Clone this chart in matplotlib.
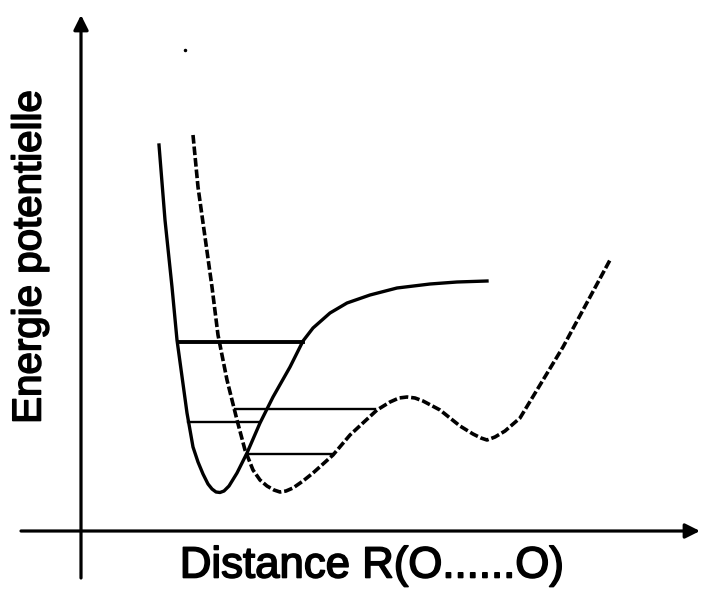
import matplotlib
matplotlib.use("Agg")
from matplotlib import pyplot as plt
from matplotlib import patheffects

plt.rcParams['font.family'] = ['Liberation Sans', 'DejaVu Sans']

# courbe en trait plein (puits simple)
r_plein = [0.78, 0.84, 0.91, 0.96, 1.06, 1.12, 1.17, 1.22, 1.27, 1.31, 1.35, 1.39,
           1.43, 1.48, 1.56, 1.66, 1.79, 1.92, 2.09, 2.22, 2.32, 2.49, 2.66, 2.89,
           3.16, 3.49, 3.76, 4.06]
e_plein = [3.86, 3.11, 2.44, 1.91, 1.18, 0.84, 0.69, 0.57, 0.47, 0.42, 0.39, 0.385,
           0.40, 0.45, 0.58, 0.78, 1.08, 1.34, 1.64, 1.90, 2.03, 2.18, 2.28, 2.36,
           2.43, 2.47, 2.49, 2.50]

# courbe en pointillés (double puits)
r_tirets = [1.12, 1.17, 1.24, 1.31, 1.37, 1.46, 1.56, 1.64, 1.72, 1.79, 1.86, 1.93,
            1.99, 2.05, 2.12, 2.22, 2.32, 2.52, 2.69, 2.83, 2.96, 3.09, 3.18, 3.26,
            3.34, 3.42, 3.59, 3.79, 3.92, 4.00, 4.06, 4.14, 4.24, 4.39, 4.59, 4.82,
            5.02, 5.29]
e_tirets = [3.96, 3.44, 2.94, 2.44, 1.96, 1.51, 1.11, 0.81, 0.61, 0.51, 0.45, 0.41,
            0.39, 0.40, 0.43, 0.50, 0.58, 0.76, 0.96, 1.09, 1.21, 1.29, 1.33, 1.34,
            1.33, 1.30, 1.21, 1.05, 0.97, 0.93, 0.91, 0.94, 1.00, 1.13, 1.46, 1.84,
            2.21, 2.71]

# niveaux d'énergie
niveaux_e = [1.89, 1.22, 1.09, 0.77]
niveaux_debut = [0.97, 1.54, 1.07, 1.66]
niveaux_fin = [2.22, 2.94, 1.79, 2.52]
niveaux_lw = [2.8, 1.7, 1.7, 1.7]

fig = plt.figure(figsize=(7.03, 5.89), dpi=100)
ax = fig.add_axes([0, 0, 1, 1])
ax.set_xlim(-0.81, 6.22)
ax.set_ylim(-0.58, 5.31)
ax.axis('off')

ax.plot(r_plein, e_plein, color='black', lw=2.4, solid_joinstyle='round')
ax.plot(r_tirets, e_tirets, color='black', lw=2.6, linestyle=(0, (2.4, 0.8)))

for e, a, b, w in zip(niveaux_e, niveaux_debut, niveaux_fin, niveaux_lw):
    ax.plot([a, b], [e, e], color='black', lw=w)

# petite tache
ax.plot([1.04], [4.81], 'o', color='black', ms=1.5)

# axes avec flèches
fleche = dict(arrowstyle='-|>', color='black', lw=2.3, mutation_scale=22,
              shrinkA=0, shrinkB=0)
ax.annotate('', xy=(0, 5.16), xytext=(0, -0.47), arrowprops=fleche)
ax.annotate('', xy=(6.19, 0), xytext=(-0.60, 0), arrowprops=fleche)

# texte un peu épaissi
epais = [patheffects.withStroke(linewidth=1.2, foreground='black')]
ax.text(-0.515, 2.74, 'Energie potentielle', rotation=90, fontsize=29,
        ha='center', va='center', path_effects=epais)
ax.text(2.91, -0.35, 'Distance R(O......O)', fontsize=31.5,
        ha='center', va='center', path_effects=epais)

plt.savefig('out.png', dpi=100)
